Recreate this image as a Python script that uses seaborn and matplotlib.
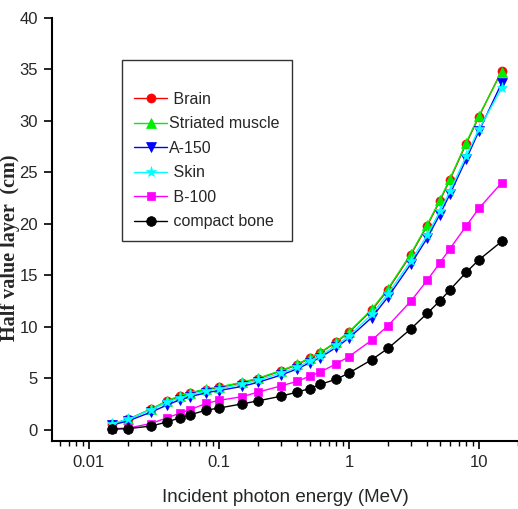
import matplotlib
matplotlib.use("Agg")
import matplotlib.pyplot as plt
import numpy as np
import pandas as pd
import seaborn as sns
from matplotlib.ticker import LogLocator, NullFormatter

# photon energies (MeV)
energy = [0.015, 0.02, 0.03, 0.04, 0.05, 0.06, 0.08, 0.1, 0.15, 0.2, 0.3, 0.4,
          0.5, 0.6, 0.8, 1, 1.5, 2, 3, 4, 5, 6, 8, 10, 15]

# half value layer (cm)
brain = [0.55, 1.0, 2.0, 2.75, 3.25, 3.55, 3.9, 4.1, 4.55, 4.95, 5.7, 6.3,
         6.95, 7.45, 8.5, 9.45, 11.6, 13.6, 17.0, 19.8, 22.2, 24.3, 27.8, 30.4, 34.9]
striated = [0.55, 1.0, 2.0, 2.8, 3.3, 3.6, 3.95, 4.15, 4.6, 5.0, 5.75, 6.35,
            7.0, 7.5, 8.55, 9.5, 11.7, 13.7, 17.1, 19.9, 22.3, 24.4, 27.9, 30.5, 34.8]
a150 = [0.45, 0.85, 1.7, 2.4, 2.9, 3.2, 3.6, 3.8, 4.2, 4.6, 5.3, 5.9,
        6.5, 7.0, 8.0, 8.9, 10.9, 12.9, 16.1, 18.6, 20.9, 22.9, 26.3, 29.0, 33.7]
skin = [0.6, 1.0, 1.95, 2.65, 3.1, 3.4, 3.75, 3.95, 4.4, 4.8, 5.5, 6.05,
        6.7, 7.15, 8.2, 9.1, 11.2, 13.2, 16.4, 18.9, 21.2, 23.2, 26.6, 29.2, 33.2]
b100 = [0.1, 0.15, 0.6, 1.15, 1.6, 1.95, 2.55, 2.85, 3.2, 3.65, 4.25, 4.7,
        5.2, 5.6, 6.4, 7.1, 8.7, 10.1, 12.5, 14.5, 16.2, 17.6, 19.8, 21.5, 24.0]
bone = [0.05, 0.1, 0.35, 0.75, 1.15, 1.45, 1.9, 2.1, 2.5, 2.8, 3.25, 3.65,
        4.0, 4.4, 4.9, 5.5, 6.8, 7.9, 9.8, 11.3, 12.5, 13.6, 15.3, 16.5, 18.3]

names = [" Brain", "Striated muscle", "A-150", " Skin", " B-100", " compact bone"]
values = [brain, striated, a150, skin, b100, bone]
colors = ["#ff0000", "#00ee00", "#0000ff", "#00ffff", "#ff00ff", "#000000"]
markers = ["o", "^", "v", "*", "s", "o"]
msizes = [6.5, 6.5, 6.5, 8, 5.5, 7]

sns.set_style("white")
plt.rcParams['font.family'] = ['Liberation Sans', 'DejaVu Sans']

fig = plt.figure(figsize=(5.18, 5.09), dpi=100)
ax = fig.add_axes([0.1004, 0.1336, 0.8996, 0.831])

for name, vals, c, m, ms in zip(names, values, colors, markers, msizes):
    df = pd.DataFrame({"energy": energy, "hvl": vals})
    sns.lineplot(data=df, x="energy", y="hvl", ax=ax, color=c, marker=m,
                 markersize=ms, markeredgecolor=c, markeredgewidth=0.5,
                 linewidth=1, label=name)

ax.set_xscale("log")
ax.set_xlim(0.0052, 20)
ax.set_ylim(-1.1, 40)
ax.set_yticks(np.arange(0, 41, 5))
ax.set_xticks([0.01, 0.1, 1, 10])
ax.set_xticklabels(["0.01", "0.1", "1", "10"])
ax.xaxis.set_minor_locator(LogLocator(base=10, subs=np.arange(2, 10)))
ax.xaxis.set_minor_formatter(NullFormatter())

for s in ["top", "right"]:
    ax.spines[s].set_visible(False)
for s in ["left", "bottom"]:
    ax.spines[s].set_color("black")
    ax.spines[s].set_linewidth(1.5)

ax.tick_params(axis="both", which="major", direction="out", length=6, width=1.2,
               labelsize=12, color="black", bottom=True, left=True, pad=4)
ax.tick_params(axis="x", which="minor", direction="out", length=3.5, width=1,
               color="black", bottom=True)

ax.set_xlabel("Incident photon energy (MeV)", fontsize=13.5, labelpad=14)
ax.set_ylabel("Half value layer  (cm)", fontsize=14.5, fontweight="bold",
              family=["Liberation Serif", "DejaVu Serif"])
ax.yaxis.set_label_coords(-0.068, 0.456)

leg = ax.legend(loc="upper left", bbox_to_anchor=(0.15, 0.9007), fontsize=11.5,
                title=" ", title_fontsize=8, handlelength=2.1, handletextpad=0.1,
                labelspacing=0.6, borderpad=0.75, fancybox=False, frameon=True,
                borderaxespad=0)
leg.get_frame().set_edgecolor("black")
leg.get_frame().set_linewidth(1)

fig.savefig("out.png", dpi=100, facecolor="white")
